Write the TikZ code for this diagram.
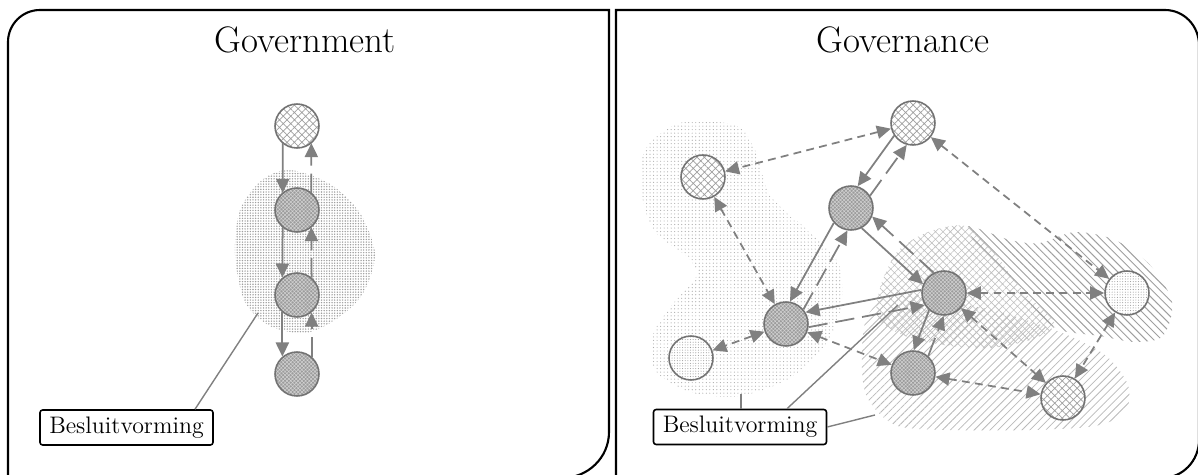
\documentclass[tikz,border=0pt]{standalone}
\usetikzlibrary{arrows.meta,patterns,patterns.meta,calc}
\newcommand\pairarr[3]{%
  \draw[solidedge] let \p1=($(#3)-(#2)$), \n1={atan2(\y1,\x1)}, \n2={\n1-#1}, \n3={\n1+180+#1} in (#2.\n2) -- (#3.\n3);
  \draw[longdash] let \p1=($(#3)-(#2)$), \n1={atan2(\y1,\x1)}, \n2={\n1+180-#1}, \n3={\n1+#1} in (#3.\n2) -- (#2.\n3);
}
\begin{document}
\begin{tikzpicture}[x=0.02cm,y=-0.02cm,
  frame/.style={draw=black,line width=1.2pt},
  node base/.style={circle,draw=gray!90!black,line width=0.9pt,minimum size=0.88cm,inner sep=0pt},
  hatchnode/.style={node base,preaction={fill=white},pattern={Hatch[angle=45,distance=3pt,line width=0.4pt]},pattern color=gray!75},
  darknode/.style={node base,preaction={fill=gray!78},pattern={Hatch[angle=45,distance=1.5pt,line width=0.3pt]},pattern color=gray!35},
  dotnode/.style={node base,preaction={fill=white},pattern={Dots[distance=1.5pt,radius=0.3pt]},pattern color=gray!80},
  edge base/.style={draw=gray,line width=1pt,>={Triangle[length=8pt,width=7.5pt]}},
  solidedge/.style={edge base,->},
  longdash/.style={edge base,->,dash pattern=on 11pt off 4.5pt},
  sdash/.style={edge base,<->,dash pattern=on 4.5pt off 3pt},
  labelbox/.style={draw=black,line width=0.9pt,fill=white,rounded corners=1.5pt,minimum width=3.46cm,minimum height=0.7cm,inner sep=0pt,font=\fontsize{13.6}{16}\selectfont},
  title/.style={font=\fontsize{21}{25}\selectfont},
  pointer/.style={draw=gray,line width=0.8pt}
]
\useasboundingbox (0,0) rectangle (1198,474);

% panels
\draw[frame] (8,480) -- (8,42) to[out=90,in=180] (40,10) -- (609,10) -- (609,432) to[out=-90,in=0] (562,478) -- (8,478);
\draw[frame] (616,480) -- (616,10) -- (1165,10) to[out=0,in=90] (1199,45) -- (1199,440) to[out=-90,in=0] (1162,478) -- (616,478);

\node[title] (tgov) at (305,40) {Government};
\node[title] (tgovn) at (903,40) {Governance};

% blobs
\fill[pattern={Dots[distance=1.5pt,radius=0.45pt]},pattern color=gray!75]
  plot[smooth cycle] coordinates {(290,170) (330,184) (360,213) (375,255) (362,295) (335,320) (305,333) (270,326) (245,302) (235,255) (240,210) (262,180)};
\fill[pattern={Dots[distance=2pt,radius=0.34pt]},pattern color=gray!65]
  plot[smooth cycle] coordinates {(680,123) (735,125) (755,150) (770,195) (805,228) (838,262) (842,305) (825,345) (790,378) (740,396) (690,392) (655,370) (653,335) (672,305) (697,275) (685,255) (655,232) (642,195) (645,150)};
\fill[pattern={Lines[angle=45,distance=3.2pt,line width=0.45pt]},pattern color=gray!55]
  plot[smooth cycle] coordinates {(868,315) (895,292) (940,300) (1000,312) (1060,332) (1105,355) (1128,385) (1125,412) (1095,426) (1030,430) (950,430) (895,425) (866,395) (862,350)};
\fill[pattern={Hatch[angle=45,distance=3pt,line width=0.35pt]},pattern color=gray!50]
  plot[smooth cycle] coordinates {(880,288) (897,252) (928,232) (965,226) (992,250) (1022,290) (1055,324) (1030,340) (990,348) (950,346) (905,336) (878,318)};
\fill[pattern={Lines[angle=-45,distance=3.2pt,line width=0.55pt]},pattern color=gray!75]
  plot[smooth cycle] coordinates {(968,226) (1010,240) (1040,243) (1075,232) (1115,240) (1150,265) (1172,302) (1163,336) (1135,342) (1100,336) (1060,330) (1038,312) (1002,272) (978,246)};

% nodes left
\node[hatchnode] (L1) at (297,126) {};
\node[darknode] (L2) at (297,210) {};
\node[darknode] (L3) at (297,295) {};
\node[darknode] (L4) at (297,374) {};

% nodes right
\node[hatchnode] (R1) at (913,123) {};
\node[hatchnode] (R2) at (703,177) {};
\node[darknode] (R3) at (851,208) {};
\node[darknode] (R4) at (786,324) {};
\node[dotnode] (R5) at (691,358) {};
\node[darknode] (R6) at (944,293) {};
\node[darknode] (R7) at (913,373) {};
\node[dotnode] (R8) at (1127,293) {};
\node[hatchnode] (R9) at (1063,398) {};

% left edges
\pairarr{40}{L1}{L2}
\pairarr{40}{L2}{L3}
\pairarr{40}{L3}{L4}

% right edges
\pairarr{20}{R1}{R3}
\pairarr{20}{R3}{R4}
\pairarr{20}{R3}{R6}
\pairarr{20}{R6}{R4}
\pairarr{20}{R6}{R7}
\draw[sdash] (R1) -- (R2);
\draw[sdash] (R1) -- (R8);
\draw[sdash] (R2) -- (R4);
\draw[sdash] (R4) -- (R5);
\draw[sdash] (R4) -- (R7);
\draw[sdash] (R6) -- (R8);
\draw[sdash] (R6) -- (R9);
\draw[sdash] (R7) -- (R9);
\draw[sdash] (R8) -- (R9);

% labels
\coordinate (lb) at (258,313);
\coordinate (rb1) at (741,394);
\coordinate (rb2) at (898,305);
\coordinate (rb3) at (875,415);
\node[labelbox] (B1) at (126.5,427.5) {Besluitvorming};
\node[labelbox] (B2) at (740,427) {Besluitvorming};
\draw[pointer] (lb) -- (B1.north -| 195,0);
\draw[pointer] (rb1) -- (rb1 |- B2.north);
\draw[pointer] (rb2) -- (B2.north -| 787,0);
\draw[pointer] (rb3) -- (B2.east);
\end{tikzpicture}
\end{document}
